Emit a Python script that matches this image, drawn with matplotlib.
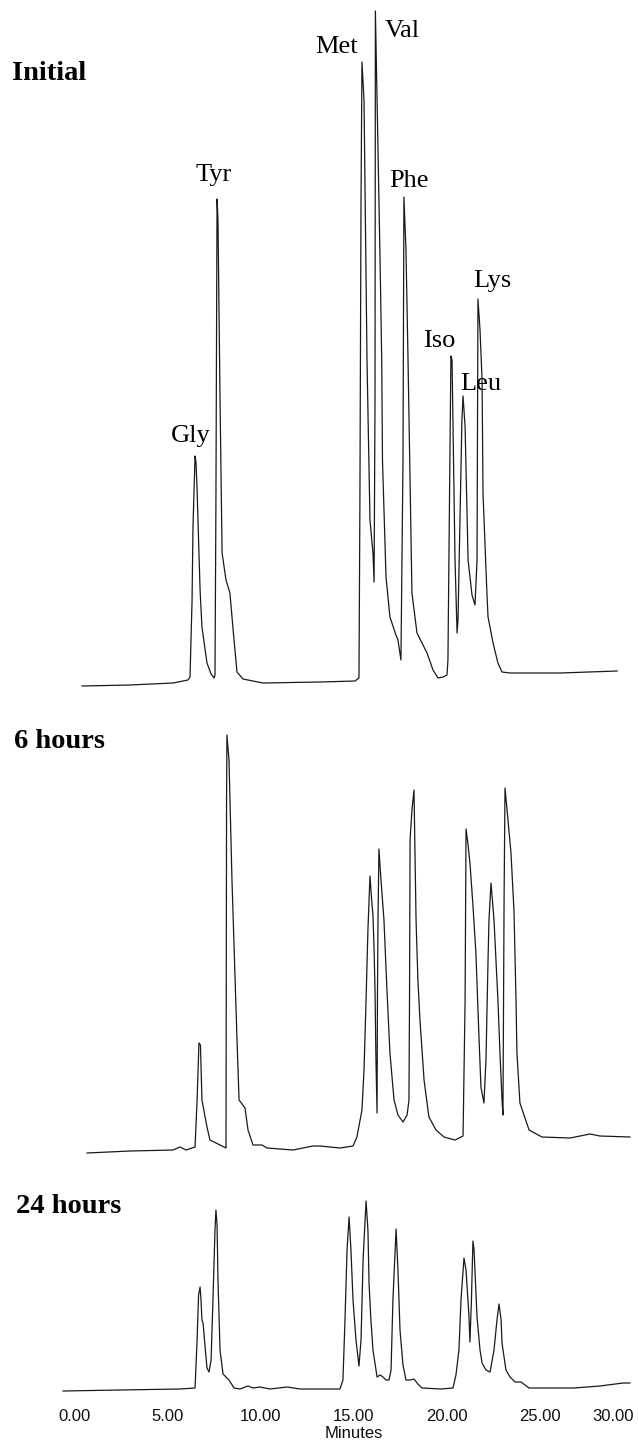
import matplotlib
matplotlib.use("Agg")
import matplotlib.pyplot as plt

# retention time (minutes) and detector response (arbitrary units)
initial_time = [0.43, 3.00, 5.31, 6.11, 6.22, 6.33, 6.38, 6.49, 6.54, 6.60, 6.70, 6.76, 6.86,
                7.13, 7.35, 7.51, 7.56, 7.61, 7.67, 7.72, 7.83, 7.94, 8.15, 8.36, 8.58, 8.74,
                9.06, 10.13, 13.19, 15.07, 15.28, 15.33, 15.39, 15.44, 15.55, 15.71, 15.87,
                16.03, 16.09, 16.14, 16.16, 16.30, 16.41, 16.50, 16.54, 16.73, 16.94, 17.26,
                17.37, 17.53, 17.64, 17.69, 17.80, 17.91, 18.12, 18.39, 18.93, 19.25, 19.52,
                19.79, 20.00, 20.05, 20.16, 20.21, 20.27, 20.43, 20.54, 20.59, 20.80, 20.86,
                20.97, 21.13, 21.34, 21.50, 21.61, 21.66, 21.77, 21.88, 21.93, 22.14, 22.20,
                22.47, 22.73, 22.95, 23.38, 26.06, 29.12]
initial_signal = [4, 5, 7, 10, 13, 90, 163, 234, 228, 200, 137, 100, 63,
                  27, 16, 12, 15, 190, 491, 470, 290, 137, 110, 97, 50, 18,
                  11, 7, 8, 9, 12, 190, 490, 628, 590, 330, 170,
                  137, 108, 290, 679, 540, 430, 330, 230, 113, 73, 55,
                  50, 30, 230, 493, 440, 330, 97, 57, 37, 20, 12,
                  13, 15, 30, 240, 334, 330, 130, 57, 70, 270, 294,
                  263, 130, 95, 85, 130, 391, 360, 310, 197, 97, 73,
                  47, 27, 18, 17, 17, 19]

h6_time = [0.70, 3.00, 5.31, 5.68, 6.01, 6.49, 6.60, 6.70, 6.78, 6.86, 7.13, 7.29, 7.83,
           8.15, 8.18, 8.20, 8.31, 8.47, 8.74, 8.85, 9.01, 9.17, 9.33, 9.60, 10.08, 10.35,
           11.74, 12.81, 13.19, 14.26, 14.96, 15.17, 15.44, 15.55, 15.66, 15.76, 15.87,
           15.98, 16.03, 16.09, 16.14, 16.19, 16.25, 16.27, 16.30, 16.35, 16.46, 16.62,
           16.78, 16.94, 17.16, 17.37, 17.64, 17.86, 17.96, 17.99, 18.02, 18.12, 18.23,
           18.34, 18.44, 18.55, 18.77, 19.03, 19.41, 19.84, 20.43, 20.86, 20.97, 21.02,
           21.13, 21.23, 21.39, 21.55, 21.72, 21.82, 21.98, 22.09, 22.20, 22.25, 22.36,
           22.52, 22.73, 22.84, 22.95, 23.00, 23.06, 23.11, 23.27, 23.43, 23.59, 23.70,
           23.75, 23.91, 24.40, 25.09, 26.60, 27.67, 28.20, 29.81]
h6_signal = [7, 9, 10, 13, 10, 13, 60, 117, 115, 60, 33, 20, 15,
             12, 360, 425, 400, 280, 120, 60, 56, 52, 30, 15, 15, 12,
             10, 14, 14, 12, 14, 23, 50, 90, 160, 230, 284,
             255, 245, 210, 170, 100, 47, 160, 240, 311, 280, 240,
             170, 107, 60, 45, 38, 45, 60, 160, 320, 350, 370,
             240, 180, 140, 80, 43, 30, 23, 20, 24, 160, 331,
             315, 297, 255, 207, 120, 73, 57, 100, 200, 240, 277,
             240, 160, 107, 60, 45, 260, 372, 340, 307, 250, 160,
             107, 57, 30, 23, 22, 26, 24, 23]

h24_time = [-0.59, 2.47, 5.68, 6.49, 6.60, 6.68, 6.76, 6.81, 6.86, 6.92, 7.02, 7.13, 7.24,
            7.35, 7.45, 7.56, 7.61, 7.67, 7.72, 7.83, 7.99, 8.31, 8.58, 8.90, 9.33, 9.60,
            9.97, 10.51, 11.42, 12.12, 14.26, 14.42, 14.53, 14.64, 14.75, 14.85, 14.96,
            15.12, 15.28, 15.39, 15.50, 15.66, 15.76, 15.82, 15.92, 16.03, 16.25, 16.41,
            16.57, 16.73, 16.89, 17.00, 17.10, 17.27, 17.37, 17.48, 17.64, 17.80, 18.02,
            18.23, 18.44, 18.66, 19.68, 20.32, 20.48, 20.64, 20.75, 20.91, 21.02, 21.18,
            21.23, 21.31, 21.39, 21.45, 21.61, 21.77, 21.88, 22.09, 22.31, 22.52, 22.68,
            22.79, 22.90, 22.95, 23.16, 23.38, 23.65, 23.97, 24.18, 24.40, 26.81, 28.20,
            29.44, 29.81]
h24_signal = [4, 5, 6, 7, 55, 100, 108, 95, 75, 72, 50, 27, 23,
              35, 95, 165, 185, 170, 115, 45, 21, 15, 7, 6, 9, 7,
              8, 6, 8, 6, 6, 15, 75, 145, 178, 145, 95,
              55, 29, 55, 135, 194, 165, 112, 75, 45, 18, 20,
              18, 15, 15, 25, 95, 166, 125, 65, 30, 15, 15,
              16, 11, 7, 6, 7, 20, 45, 95, 137, 125, 78,
              53, 95, 154, 145, 78, 45, 32, 25, 23, 45, 75,
              91, 75, 52, 25, 18, 13, 13, 10, 7, 7, 9,
              12, 12]

# peak names with label anchor (time, response at text baseline) in the initial run
peak_names = ["Gly", "Tyr", "Met", "Val", "Phe", "Iso", "Leu", "Lys"]
peak_label_time = [6.25, 7.51, 14.05, 17.59, 17.96, 19.57, 21.82, 22.44]
peak_label_level = [248, 509, 637, 653, 503, 343, 300, 403]

panel_titles = ["Initial", "6 hours", "24 hours"]
title_level = [610, 412, 182]
title_time = [-3.32, -3.22, -3.11]

time_ticks = [0, 5, 10, 15, 20, 25, 30]

fig = plt.figure(figsize=(6.38, 14.4), dpi=100)
ax_init = fig.add_axes([0, 0.52083, 1, 0.47917])
ax_6h = fig.add_axes([0, 0.19444, 1, 0.32639])
ax_24h = fig.add_axes([0, 0.03125, 1, 0.16319])

panels = [
    (ax_init, initial_time, initial_signal, 690),
    (ax_6h, h6_time, h6_signal, 470),
    (ax_24h, h24_time, h24_signal, 235),
]
line_kw = dict(color="#1a1a1a", lw=0.9)
for i, (ax, t, s, top) in enumerate(panels):
    ax.plot(t, s, **line_kw)
    ax.set_xlim(-3.968, 30.241)
    ax.set_ylim(0, top)
    ax.text(title_time[i], title_level[i], panel_titles[i], family="Liberation Serif",
            fontweight="bold", fontsize=20.5, ha="left", va="baseline")
    for sp in ax.spines.values():
        sp.set_visible(False)
    ax.set_yticks([])
    if ax is not ax_24h:
        ax.set_xticks([])

for name, t, lvl in zip(peak_names, peak_label_time, peak_label_level):
    ax_init.text(t, lvl, name, family="Liberation Serif", fontsize=19,
                 ha="center", va="baseline")

ax_24h.set_xticks(time_ticks)
ax_24h.set_xticklabels(["%.2f" % v for v in time_ticks], family="Liberation Sans",
                       fontsize=12, color="#111111")
ax_24h.tick_params(axis="x", length=0, pad=10)
ax_24h.get_xticklabels()[-1].set_horizontalalignment("right")
ax_24h.set_xlabel("Minutes", family="Liberation Sans", fontsize=12, va="top",
                  color="#111111")
ax_24h.xaxis.set_label_coords(0.555, -0.13)

fig.savefig("out.png", dpi=100)
